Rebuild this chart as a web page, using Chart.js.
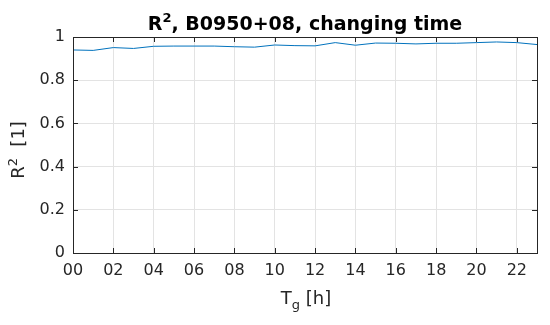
<!DOCTYPE html>
<html>
<head>
<meta charset="utf-8">
<script src="https://cdn.jsdelivr.net/npm/chart.js@4/dist/chart.umd.min.js"></script>
<style>
  html, body { margin: 0; padding: 0; background: #fff; }
  #wrap { width: 550px; height: 325px; }
</style>
</head>
<body>
<div id="wrap"><canvas id="chart-r2"></canvas></div>
<script>
// hour of day (T_g) and fitted R^2
var hours = [0, 1, 2, 3, 4, 5, 6, 7, 8, 9, 10, 11, 12, 13, 14, 15, 16, 17, 18, 19, 20, 21, 22, 23];
var r2Values = [0.940, 0.938, 0.951, 0.947, 0.957, 0.958, 0.958, 0.958, 0.955, 0.953, 0.963, 0.960,
                0.959, 0.974, 0.962, 0.972, 0.971, 0.968, 0.971, 0.971, 0.974, 0.977, 0.974, 0.965];
var xTickLabels = ['00', '02', '04', '06', '08', '10', '12', '14', '16', '18', '20', '22'];
var yTickValues = [0, 0.2, 0.4, 0.6, 0.8, 1];

var titleText = ['R', '2', ', B0950+08, changing time'];
var xTitleText = ['T', 'g', ' [h]'];
var yTitleText = ['R', '2', '  [1]'];

var ink = '#262626';
var lineBlue = '#0072bd';
var gridGrey = '#e3e3e3';
var fam = "'DejaVu Sans', sans-serif";

function drawRuns(ctx, runs, x, y) {
  var total = 0;
  runs.forEach(function(r) { ctx.font = r.font; r.w = ctx.measureText(r.text).width; total += r.w; });
  var cx = x - total / 2;
  runs.forEach(function(r) {
    ctx.font = r.font;
    ctx.fillText(r.text, cx, y + (r.dy || 0));
    cx += r.w;
  });
}

// frame with inward ticks plus the tex-style labels
var matlabAxes = {
  id: 'matlabAxes',
  afterDraw: function(chart) {
    var ctx = chart.ctx, a = chart.chartArea;
    var xs = chart.scales.x, ys = chart.scales.y;
    var tl = 5;
    ctx.save();
    ctx.strokeStyle = ink;
    ctx.lineWidth = 1;
    ctx.beginPath();
    xs.ticks.forEach(function(t) {
      var px = Math.round(xs.getPixelForValue(t.value)) + 0.5;
      ctx.moveTo(px, a.bottom); ctx.lineTo(px, a.bottom - tl);
      ctx.moveTo(px, a.top); ctx.lineTo(px, a.top + tl);
    });
    ys.ticks.forEach(function(t) {
      var py = Math.round(ys.getPixelForValue(t.value)) + 0.5;
      ctx.moveTo(a.left, py); ctx.lineTo(a.left + tl, py);
      ctx.moveTo(a.right, py); ctx.lineTo(a.right - tl, py);
    });
    ctx.stroke();
    ctx.strokeRect(Math.round(a.left) + 0.5, Math.round(a.top) + 0.5,
                   Math.round(a.right - a.left), Math.round(a.bottom - a.top));

    ctx.fillStyle = '#000';
    ctx.textBaseline = 'alphabetic';
    ctx.textAlign = 'left';
    var cxMid = (a.left + a.right) / 2;
    drawRuns(ctx, [
      { text: titleText[0], font: 'bold 19px ' + fam },
      { text: titleText[1], font: 'bold 13px ' + fam, dy: -8 },
      { text: titleText[2], font: 'bold 19px ' + fam }
    ], cxMid, 30);

    ctx.fillStyle = ink;
    drawRuns(ctx, [
      { text: xTitleText[0], font: '18px ' + fam },
      { text: xTitleText[1], font: '13px ' + fam, dy: 5 },
      { text: xTitleText[2], font: '18px ' + fam }
    ], cxMid + 1, 303.5);

    ctx.translate(23.5, (a.top + a.bottom) / 2 + 5);
    ctx.rotate(-Math.PI / 2);
    drawRuns(ctx, [
      { text: yTitleText[0], font: '18px ' + fam },
      { text: yTitleText[1], font: '13px ' + fam, dy: -7 },
      { text: yTitleText[2], font: '18px ' + fam }
    ], 0, 0);
    ctx.restore();
  }
};

var ctx = document.getElementById('chart-r2');
new Chart(ctx.getContext('2d'), {
  type: 'line',
  data: {
    labels: hours,
    datasets: [{
      data: hours.map(function(h, i) { return { x: h, y: r2Values[i] }; }),
      borderColor: lineBlue, borderWidth: 1, pointRadius: 0, tension: 0, fill: false
    }]
  },
  options: {
    responsive: true, maintainAspectRatio: false, animation: false,
    layout: { padding: { top: 37, right: 13, left: 0, bottom: 0 } },
    plugins: { legend: { display: false }, title: { display: false }, tooltip: { enabled: false } },
    scales: {
      x: {
        type: 'linear', min: 0, max: 23,
        afterFit: function(s) { s.height = 72; },
        afterBuildTicks: function(s) { s.ticks = xTickLabels.map(function(_, i) { return { value: i * 2 }; }); },
        ticks: {
          autoSkip: false, maxRotation: 0, padding: 8, color: ink,
          font: { family: 'DejaVu Sans', size: 16 },
          callback: function(v) { return xTickLabels[v / 2]; }
        },
        grid: { color: gridGrey, drawTicks: false },
        border: { display: false }
      },
      y: {
        min: 0, max: 1,
        afterFit: function(s) { s.width = 73; },
        afterBuildTicks: function(s) { s.ticks = yTickValues.map(function(v) { return { value: v }; }); },
        ticks: {
          padding: 8, color: ink,
          font: { family: 'DejaVu Sans', size: 16 },
          callback: function(v) { return String(v); }
        },
        grid: { color: gridGrey, drawTicks: false },
        border: { display: false }
      }
    }
  },
  plugins: [matlabAxes]
});
</script>
</body>
</html>
